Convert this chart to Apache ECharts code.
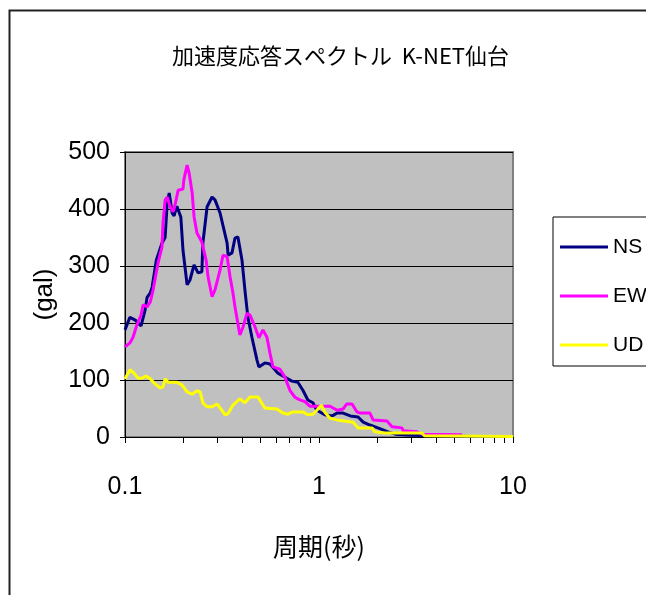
<!DOCTYPE html>
<html>
<head>
<meta charset="utf-8">
<script src="https://cdn.jsdelivr.net/npm/echarts@6/dist/echarts.min.js"></script>
<style>
  html, body { margin: 0; padding: 0; background: #fff; }
  #chart { width: 646px; height: 595px; }
</style>
</head>
<body>
<div id="chart"></div>
<script>
// 周期(秒) と 応答値(gal)
var nsPeriod = [0.100, 0.106, 0.113, 0.121, 0.127, 0.130, 0.135, 0.138, 0.145, 0.155, 0.161, 0.165, 0.169, 0.175, 0.179, 0.185, 0.194, 0.199, 0.209, 0.216, 0.227, 0.238, 0.249, 0.252, 0.265, 0.281, 0.291, 0.309, 0.336, 0.340, 0.356, 0.369, 0.382, 0.401, 0.415, 0.430, 0.451, 0.479, 0.490, 0.526, 0.559, 0.614, 0.683, 0.725, 0.778, 0.826, 0.876, 0.930, 0.975, 0.986, 1.07, 1.17, 1.24, 1.33, 1.45, 1.59, 1.69, 1.83, 2.01, 2.27, 2.47, 3.0, 4.0, 6.0, 10.0];
var nsValue  = [188, 210, 205, 195, 223, 245, 253, 263, 310, 340, 350, 410, 428, 393, 388, 405, 386, 328, 267, 275, 302, 288, 290, 340, 404, 421, 416, 393, 340, 319, 323, 349, 351, 310, 258, 210, 175, 135, 123, 130, 128, 112, 103, 98, 96, 82, 65, 60, 47, 44, 39, 37, 42, 42, 37, 35, 26, 21, 16, 9, 5, 3, 2, 1, 1];

var ewPeriod = [0.100, 0.106, 0.110, 0.115, 0.121, 0.124, 0.130, 0.135, 0.139, 0.148, 0.155, 0.157, 0.161, 0.165, 0.171, 0.177, 0.181, 0.188, 0.199, 0.201, 0.209, 0.214, 0.222, 0.227, 0.235, 0.249, 0.262, 0.268, 0.281, 0.291, 0.309, 0.320, 0.336, 0.348, 0.360, 0.369, 0.391, 0.406, 0.425, 0.441, 0.468, 0.490, 0.514, 0.539, 0.559, 0.579, 0.629, 0.667, 0.708, 0.751, 0.797, 0.846, 0.897, 0.952, 1.14, 1.24, 1.33, 1.39, 1.48, 1.57, 1.63, 1.83, 1.90, 2.24, 2.38, 2.68, 2.71, 3.20, 3.40, 5.46];
var ewValue  = [158, 165, 175, 196, 214, 232, 228, 237, 255, 305, 333, 375, 416, 421, 404, 395, 407, 433, 435, 451, 477, 463, 428, 386, 358, 342, 310, 281, 246, 258, 293, 319, 316, 281, 253, 228, 179, 193, 217, 214, 193, 174, 188, 175, 147, 123, 119, 105, 82, 70, 65, 62, 54, 54, 54, 47, 49, 58, 58, 44, 42, 42, 30, 28, 18, 16, 11, 9, 5, 4];

var udPeriod = [0.100, 0.106, 0.110, 0.117, 0.122, 0.128, 0.135, 0.143, 0.152, 0.157, 0.161, 0.167, 0.185, 0.197, 0.209, 0.222, 0.235, 0.244, 0.252, 0.265, 0.281, 0.298, 0.309, 0.328, 0.340, 0.360, 0.391, 0.415, 0.441, 0.485, 0.526, 0.607, 0.652, 0.691, 0.734, 0.826, 0.876, 0.930, 0.975, 1.03, 1.07, 1.14, 1.24, 1.50, 1.59, 1.88, 1.94, 2.19, 3.40, 3.50, 10.0];
var udValue  = [102, 118, 114, 103, 103, 107, 102, 93, 86, 88, 102, 96, 96, 91, 79, 75, 81, 79, 60, 53, 53, 58, 51, 39, 41, 56, 67, 60, 70, 70, 51, 49, 42, 40, 44, 44, 39, 40, 47, 56, 44, 33, 30, 26, 16, 16, 9, 7, 7, 2, 1];

var seriesNames = ['NS', 'EW', 'UD'];
var seriesColors = ['#000080', '#FF00FF', '#FFFF00'];
var minorTicks = [0.1, 0.2, 0.3, 0.4, 0.5, 0.6, 0.7, 0.8, 0.9, 1, 2, 3, 4, 5, 6, 7, 8, 9, 10];
var majorLabels = [0.1, 1, 10];

function pairs(xs, ys) {
  return xs.map(function (x, i) { return [x, ys[i]]; });
}

var numFont = "'Liberation Sans Narrow', 'Liberation Sans', Arial, sans-serif";
var jpFont = "'Noto Sans CJK JP', sans-serif";

var chart = echarts.init(document.getElementById('chart'));
var option = {
  animation: false,
  backgroundColor: '#fff',
  title: {
    text: '加速度応答スペクトル  K-NET仙台',
    left: 167,
    top: 40,
    textStyle: { fontFamily: jpFont, fontSize: 22, fontWeight: 'normal', color: '#000' }
  },
  graphic: [{
    type: 'rect',
    shape: { x: 9.5, y: 10.5, width: 700, height: 700 },
    style: { fill: 'none', stroke: '#222', lineWidth: 2 },
    silent: true
  }],
  legend: {
    orient: 'vertical',
    left: 553,
    top: 217,
    padding: [16, 20, 7, 7],
    itemGap: 21,
    itemWidth: 48,
    itemHeight: 3,
    icon: 'rect',
    borderColor: '#000',
    borderWidth: 1,
    textStyle: { fontFamily: numFont, fontSize: 21, lineHeight: 28, color: '#000' },
    data: seriesNames
  },
  grid: {
    left: 125, top: 152, width: 388, height: 285,
    show: true,
    backgroundColor: '#C0C0C0',
    borderColor: '#808080',
    borderWidth: 2
  },
  xAxis: {
    type: 'log',
    logBase: 10,
    min: 0.1,
    max: 10,
    name: '周期(秒)',
    nameLocation: 'middle',
    nameGap: 97,
    nameTextStyle: { fontFamily: jpFont, fontSize: 25, color: '#000' },
    axisLine: { show: true, lineStyle: { color: '#000', width: 1 } },
    axisTick: { show: true, inside: false, length: 6, customValues: minorTicks, lineStyle: { color: '#000' } },
    axisLabel: {
      customValues: majorLabels,
      margin: 38,
      fontFamily: numFont,
      fontSize: 25,
      color: '#000',
      formatter: function (v) { return String(v); }
    },
    splitLine: { show: false },
    minorTick: { show: false }
  },
  yAxis: {
    type: 'value',
    min: 0,
    max: 500,
    interval: 100,
    name: '(gal)',
    nameLocation: 'middle',
    nameGap: 64,
    nameTextStyle: { fontFamily: numFont, fontSize: 26, color: '#000' },
    axisLine: { show: true, lineStyle: { color: '#000', width: 1 } },
    axisTick: { show: true, length: 5, lineStyle: { color: '#000' } },
    axisLabel: { margin: 15, fontFamily: numFont, fontSize: 25, color: '#000' },
    splitLine: { show: true, lineStyle: { color: '#000', width: 1 } }
  },
  series: [
    { name: 'NS', type: 'line', data: pairs(nsPeriod, nsValue) },
    { name: 'EW', type: 'line', data: pairs(ewPeriod, ewValue) },
    { name: 'UD', type: 'line', data: pairs(udPeriod, udValue) }
  ].map(function (s, i) {
    s.showSymbol = false;
    s.symbol = 'none';
    s.color = seriesColors[i];
    s.lineStyle = { color: seriesColors[i], width: 3 };
    return s;
  })
};
chart.setOption(option);
</script>
</body>
</html>
